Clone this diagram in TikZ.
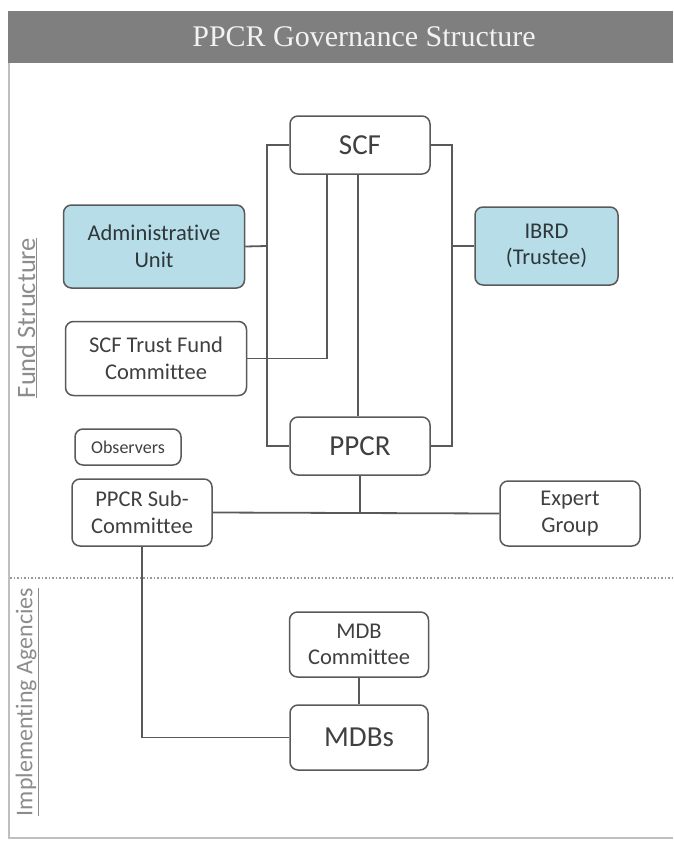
\documentclass[tikz,border=0pt]{standalone}
\usepackage{fontspec}
\setmainfont{Carlito}[Ligatures=NoCommon]
\newfontfamily\titlefont{Liberation Serif}
\definecolor{barGray}{HTML}{7F7F7F}
\definecolor{frameGray}{HTML}{BFBFBF}
\definecolor{lineGray}{HTML}{595959}
\definecolor{textGray}{HTML}{404040}
\definecolor{sideGray}{HTML}{8C8C8C}
\definecolor{lightBlue}{HTML}{B7DDE8}
\tikzset{
  box/.style={draw=lineGray, line width=1.5pt, rounded corners=8pt, fill=white,
    align=center, text=textGray, inner sep=0pt,
    font=\fontsize{22.5}{26.5}\selectfont},
  bigbox/.style={box, font=\fontsize{29}{34}\selectfont},
  bluebox/.style={box, fill=lightBlue, text=black!75!lightBlue},
  link/.style={draw=lineGray, line width=1.8pt},
  sidelabel/.style={rotate=90, text=sideGray}
}
\begin{document}
\begin{tikzpicture}[x=1pt, y=-1pt]
        \useasboundingbox (0,0) rectangle (673,841);

        % Draw the frame and the title bar
        \draw[frameGray, line width=2pt] (9,63) -- (9,838) -- (673,838);
        \fill[barGray] (8,11) rectangle (673,63);
        \node (title) at (364,37) [text=white!95!black, font=\titlefont\fontsize{30}{34}\selectfont] {PPCR Governance Structure};

        % Separator between the two parts
        \draw[frameGray!80!black, line width=1.5pt, dotted] (10,578) -- (673,578);

        % Side labels
        \node (fund) at (27,318) [sidelabel, font=\fontsize{26.5}{30}\selectfont] {\underline{Fund Structure}};
        \node (impl) at (27,702) [sidelabel, font=\fontsize{24}{28}\selectfont] {\underline{Implementing Agencies}};

        % Fund structure boxes
        \node (scf) at (360,145) [bigbox, minimum width=140pt, minimum height=58pt] {SCF};
        \node (admin) at (154,246.5) [bluebox, minimum width=181pt, minimum height=83pt] {Administrative\\Unit};
        \node (ibrd) at (546.5,246) [bluebox, minimum width=143pt, minimum height=78pt] {IBRD\\(Trustee)};
        \node (trust) at (156,358.5) [box, minimum width=181pt, minimum height=74pt] {SCF Trust Fund\\Committee};
        \node (obs) at (128,447) [box, minimum width=106pt, minimum height=36pt, font=\fontsize{18}{21}\selectfont] {Observers};
        \node (ppcr) at (360,446) [bigbox, minimum width=140pt, minimum height=58pt] {PPCR};
        \node (sub) at (142,512.5) [box, minimum width=140pt, minimum height=67pt] {PPCR Sub-\\Committee};
        \node (expert) at (570,513.5) [box, minimum width=140pt, minimum height=65pt] {Expert\\Group};

        % Implementing agencies boxes
        \node (mdbc) at (359,644.5) [box, minimum width=139pt, minimum height=65pt] {MDB\\Committee};
        \node (mdbs) at (359,737.5) [bigbox, minimum width=138pt, minimum height=65pt] {MDBs};

        % Left and right brackets between SCF and PPCR
        \coordinate (lbar) at (267,246);
        \coordinate (rbar) at (452,246);
        \draw[link] (scf.west) -| (lbar) |- (ppcr.west);
        \draw[link] (scf.east) -| (rbar) |- (ppcr.east);
        \draw[link] (admin.east) -- (lbar);
        \draw[link] (ibrd.west) -- (rbar);

        % SCF down to the trust fund committee and to PPCR
        \draw[link] ([xshift=-33pt]scf.south) |- (trust.east);
        \draw[link] ([xshift=-2pt]scf.south) -- ([xshift=-2pt]ppcr.north);

        % PPCR to the sub-committee and the expert group
        \coordinate (hub) at (360,512.5);
        \draw[link] (ppcr.south) -- (hub);
        \draw[link] (sub.east) -- (expert.west);

        % Sub-committee down to the MDBs
        \draw[link] (sub.south) |- (mdbs.west);
        \draw[link] (mdbc.south) -- (mdbs.north);

\end{tikzpicture}
\end{document}
